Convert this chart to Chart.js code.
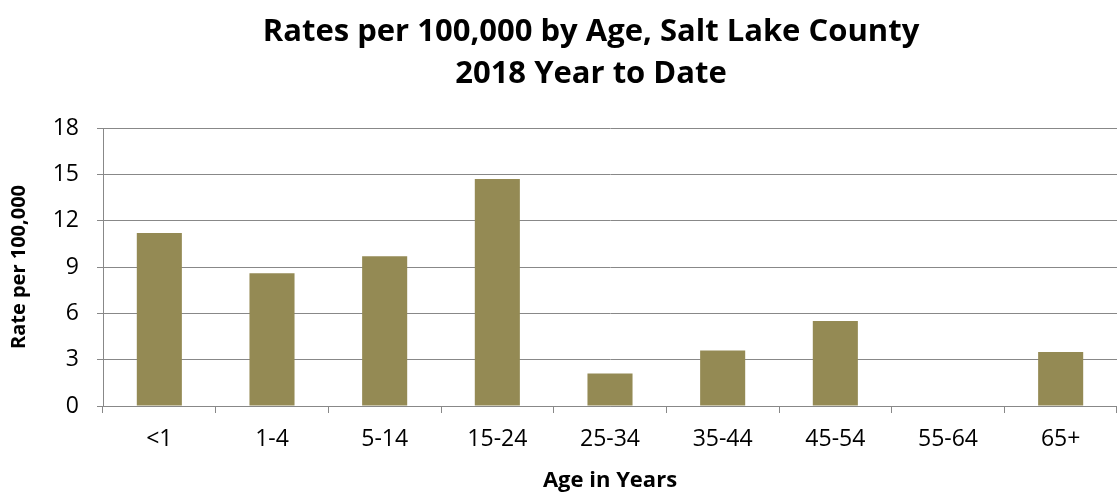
<!DOCTYPE html>
<html>
<head>
<meta charset="utf-8">
<script src="https://cdn.jsdelivr.net/npm/chart.js@4.4.1/dist/chart.umd.min.js"></script>
<style>
  html, body { margin: 0; padding: 0; background: #fff; }
  #wrap { position: relative; width: 1117px; height: 495px; }
  #title { position: absolute; left: 0; top: 8px; width: 1182px; text-align: center;
           font-family: "Open Sans", sans-serif; font-weight: bold; font-size: 31px;
           line-height: 42px; color: #000; }
  canvas { position: absolute; left: 0; top: 0; }
</style>
</head>
<body>
<div id="wrap">
  <canvas id="c" width="1117" height="495"></canvas>
  <div id="title">Rates per 100,000 by Age, Salt Lake County<br>2018 Year to Date</div>
</div>
<script>
const categories = ["<1", "1-4", "5-14", "15-24", "25-34", "35-44", "45-54", "55-64", "65+"];
const rates = [11.2, 8.6, 9.7, 14.7, 2.1, 3.6, 5.5, 0, 3.5];
const yTicks = [0, 3, 6, 9, 12, 15, 18];
const yAxisTitle = "Rate per 100,000";
const xAxisTitle = "Age in Years";

const gridColor = "#888888";
new Chart(document.getElementById("c"), {
  type: "bar",
  data: {
    labels: categories,
    datasets: [{
      data: rates,
      backgroundColor: "#948A54",
      borderWidth: 0,
      barPercentage: 0.8,
      categoryPercentage: 0.5
    }]
  },
  options: {
    responsive: false,
    animation: false,
    layout: { padding: { top: 128, right: 0, bottom: 0, left: 0 } },
    plugins: { legend: { display: false }, tooltip: { enabled: false }, title: { display: false } },
    scales: {
      x: {
        afterFit: (s) => { s.height = 89; },
        grid: { offset: true, drawOnChartArea: false, drawTicks: true, tickLength: 7, color: gridColor, lineWidth: 1 },
        border: { color: gridColor, width: 1 },
        ticks: { color: "#000", font: { family: "Open Sans", size: 23 }, padding: 13, maxRotation: 0 },
        title: { display: true, text: xAxisTitle, color: "#000",
                 font: { family: "Open Sans", size: 22, weight: "bold" }, padding: { top: 0, bottom: 1 } }
      },
      y: {
        min: 0, max: 18,
        afterFit: (s) => { s.width = 103; },
        afterBuildTicks: (s) => { s.ticks = yTicks.map(v => ({ value: v })); },
        grid: { color: gridColor, lineWidth: 1, tickLength: 6 },
        border: { color: gridColor, width: 1 },
        ticks: { color: "#000", font: { family: "Open Sans", size: 23 }, padding: 18 },
        title: { display: true, text: yAxisTitle, color: "#000",
                 font: { family: "Open Sans", size: 20, weight: "bold" }, padding: { top: 7, bottom: 0 } }
      }
    }
  }
});
</script>
</body>
</html>
